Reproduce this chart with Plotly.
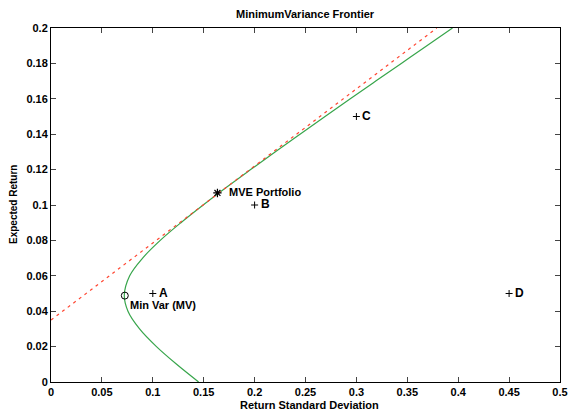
import plotly.graph_objects as go

# Frontier points (std dev, expected return)
frontier_mu = [0.00, 0.01, 0.02, 0.03, 0.04, 0.049, 0.06, 0.07, 0.08, 0.09, 0.10,
               0.11, 0.12, 0.13, 0.14, 0.15, 0.16, 0.17, 0.18, 0.19, 0.20]
frontier_sd = [0.145, 0.1234, 0.1036, 0.0870, 0.0756, 0.0720, 0.0773, 0.0900, 0.1073,
               0.1276, 0.1495, 0.1724, 0.1961, 0.2201, 0.2446, 0.2692, 0.2940,
               0.3190, 0.3441, 0.3692, 0.3944]

# Capital market line (red dashed)
cml_sd = [0.0, 0.379]
cml_mu = [0.035, 0.2]

# Assets
asset_names = ["A", "B", "C", "D"]
asset_sd = [0.10, 0.20, 0.30, 0.45]
asset_mu = [0.05, 0.10, 0.15, 0.05]

# Special portfolios
mv_sd, mv_mu, mv_label = [0.0725], [0.0488], "Min Var (MV)"
mve_sd, mve_mu, mve_label = [0.1635], [0.1068], "MVE Portfolio"

title_text = "MinimumVariance Frontier"
x_title = "Return Standard Deviation"
y_title = "Expected Return"

x_ticks = [0, 0.05, 0.1, 0.15, 0.2, 0.25, 0.3, 0.35, 0.4, 0.45, 0.5]
x_tick_text = ["0", "0.05", "0.1", "0.15", "0.2", "0.25", "0.3", "0.35", "0.4", "0.45", "0.5"]
y_ticks = [0, 0.02, 0.04, 0.06, 0.08, 0.1, 0.12, 0.14, 0.16, 0.18, 0.2]
y_tick_text = ["0", "0.02", "0.04", "0.06", "0.08", "0.1", "0.12", "0.14", "0.16", "0.18", "0.2"]

FAM = "Liberation Sans, Arial, sans-serif"
FONT = dict(family=FAM, size=11, color="black", weight="bold")

fig = go.Figure()
fig.add_trace(go.Scatter(x=frontier_sd, y=frontier_mu, mode="lines",
                         line=dict(color="rgb(55,165,75)", width=1.2, shape="spline"),
                         showlegend=False, hoverinfo="skip"))
fig.add_trace(go.Scatter(x=cml_sd, y=cml_mu, mode="lines",
                         line=dict(color="rgb(255,70,50)", width=1.2, dash="3px,4px"),
                         showlegend=False, hoverinfo="skip"))
fig.add_trace(go.Scatter(x=asset_sd, y=asset_mu, mode="markers",
                         marker=dict(symbol="cross-thin", size=5, line=dict(color="black", width=1)),
                         showlegend=False))
for nm, sx, sy in zip(asset_names, asset_sd, asset_mu):
    fig.add_annotation(x=sx, y=sy, text=nm, showarrow=False, xanchor="left", yanchor="middle",
                       xshift=4, yshift=1, font=dict(family=FAM, size=12, color="black", weight="bold"))
fig.add_trace(go.Scatter(x=mv_sd, y=mv_mu, mode="markers",
                         marker=dict(symbol="circle-open", size=7, color="black", line=dict(width=1)),
                         showlegend=False))
fig.add_trace(go.Scatter(x=mve_sd, y=mve_mu, mode="markers",
                         marker=dict(symbol="asterisk-open", size=7, color="black", line=dict(width=1.2, color="black")),
                         showlegend=False))

fig.add_annotation(x=mv_sd[0], y=mv_mu[0], text=mv_label, showarrow=False,
                   xanchor="left", yanchor="middle", xshift=3, yshift=-9, font=FONT)
fig.add_annotation(x=mve_sd[0], y=mve_mu[0], text=mve_label, showarrow=False,
                   xanchor="left", yanchor="middle", xshift=10, yshift=1, font=FONT)

# titles
fig.add_annotation(xref="paper", yref="paper", x=0.5, y=1, yshift=14, text=title_text,
                   showarrow=False, xanchor="center", yanchor="middle", font=FONT)
fig.add_annotation(xref="paper", yref="paper", x=0.5, y=0, yshift=-23, xshift=4, text=x_title,
                   showarrow=False, xanchor="center", yanchor="middle", font=FONT)
fig.add_annotation(xref="paper", yref="paper", x=0, y=0.5, xshift=-38, text=y_title, textangle=-90,
                   showarrow=False, xanchor="center", yanchor="middle",
                   font=dict(family=FAM, size=10, color="black", weight="bold"))

fig.update_layout(
    width=570, height=411,
    margin=dict(l=51, r=10, t=28, b=29),
    paper_bgcolor="white", plot_bgcolor="white",
    font=FONT,
)
fig.update_xaxes(range=[0, 0.5], tickvals=x_ticks, ticktext=x_tick_text, ticks="inside", ticklen=5,
                 showline=True, linecolor="black", linewidth=1, mirror="ticks", showgrid=False,
                 zeroline=False, tickfont=FONT, automargin=False)
fig.update_yaxes(range=[0, 0.2], tickvals=y_ticks, ticktext=y_tick_text, ticks="inside", ticklen=5,
                 showline=True, linecolor="black", linewidth=1, mirror="ticks", showgrid=False,
                 zeroline=False, tickfont=FONT, automargin=False)

fig.write_html("out.html", config={"displayModeBar": False},
               post_script="document.body.style.margin='0';document.body.style.overflow='hidden';")
